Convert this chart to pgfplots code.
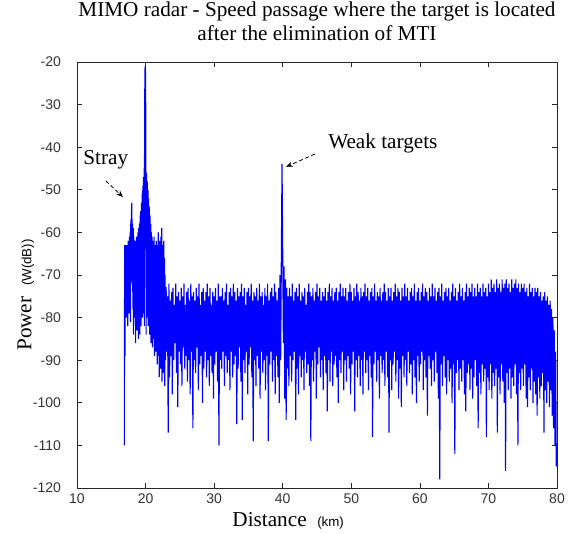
\documentclass[border=0pt]{standalone}
\usepackage{pgfplots}
\pgfplotsset{compat=1.18}
\usepackage{fontspec}
\setmainfont{Liberation Serif}
\setsansfont{Liberation Sans}
\usetikzlibrary{arrows.meta}
\begin{document}
\begin{tikzpicture}
\begin{axis}[
  scale only axis,
  width=360pt, height=319.5pt,
  xmin=10, xmax=80, ymin=-120, ymax=-20,
  xtick={10,20,...,80}, ytick={-120,-110,...,-20},
  tick align=inside, major tick length=3.75pt,
  axis line style={black!85, line width=0.6pt},
  every tick/.style={black!85, line width=0.5pt},
  /pgf/number format/assume math mode=true,
  tick label style={font=\sffamily\fontsize{10.5}{12}\selectfont, black!80},
  xticklabel style={yshift=-1pt},
  yticklabel style={xshift=-8.5pt},
  title={MIMO radar - Speed passage where the target is located\\after the elimination of MTI},
  title style={font=\fontsize{15.9}{17.5}\selectfont, align=center, at={(axis description cs:0.5,1)}, anchor=south, inner sep=0pt, yshift=10pt},
  xlabel={Distance\ \ {\sffamily\fontsize{10}{12}\selectfont (km)}},
  xlabel style={font=\fontsize{15.9}{17.5}\selectfont, at={(axis description cs:0.44,0)}, anchor=north, inner sep=0pt, yshift=-18pt},
  ylabel={Power\ \ {\sffamily\fontsize{10}{12}\selectfont (W(dB))}},
  ylabel style={font=\fontsize{15.9}{17.5}\selectfont, at={(axis description cs:0,0.453)}, anchor=south, inner sep=0pt, yshift=32pt},
]
\addplot[blue, line width=0.85pt] coordinates {
(16.9,-110)(16.95,-63)(17.0,-89)(17.05,-64)(17.1,-76)(17.15,-63)(17.2,-80)(17.25,-65)(17.3,-74)(17.35,-63)(17.4,-82)(17.45,-62)
(17.5,-77)(17.55,-64)(17.6,-79)(17.65,-61)(17.7,-75)(17.75,-60)(17.8,-81)(17.85,-57)(17.9,-72)(17.95,-55)
(18.0,-53)(18.05,-70)(18.1,-58)(18.15,-78)(18.2,-59)(18.25,-84)(18.3,-61)(18.35,-76)(18.4,-62)(18.45,-80)
(18.5,-63)(18.55,-86)(18.6,-62)(18.65,-78)(18.7,-61)(18.75,-83)(18.8,-62)(18.85,-77)(18.9,-60)(18.95,-85)
(19.0,-59)(19.05,-79)(19.1,-58)(19.15,-84)(19.2,-56)(19.25,-78)(19.3,-55)(19.35,-82)(19.4,-53)(19.45,-76)
(19.5,-51)(19.55,-80)(19.6,-49)(19.65,-74)(19.7,-47)(19.75,-79)(19.8,-45)(19.82,-82)(19.85,-43)(19.9,-22)(19.95,-21)
(20.0,-23)(20.05,-43)(20.08,-84)(20.1,-72)(20.15,-46)(20.2,-80)(20.25,-48)(20.3,-76)(20.35,-50)(20.4,-82)(20.45,-52)
(20.5,-78)(20.55,-54)(20.6,-84)(20.65,-56)(20.7,-80)(20.75,-58)(20.8,-86)(20.85,-60)(20.9,-81)(20.95,-61)
(21.0,-87)(21.05,-62)(21.1,-80)(21.15,-64)(21.2,-85)(21.25,-61)(21.3,-89)(21.35,-63)(21.4,-82)(21.45,-65)
(21.5,-88)(21.55,-62)(21.6,-84)(21.65,-64)(21.7,-91)(21.75,-63)(21.8,-85)(21.85,-60)(21.9,-89)(21.95,-63)
(22.0,-94)(22.05,-62)(22.1,-86)(22.15,-64)(22.2,-92)(22.25,-61)(22.3,-87)(22.35,-59)(22.4,-95)(22.45,-63)
(22.5,-88)(22.55,-64)(22.6,-93)(22.65,-62)(22.7,-89)(22.75,-66)(22.8,-96)(22.85,-70)(22.9,-90)(22.95,-73)
(23.0,-73)(23.1,-88)(23.2,-75)(23.3,-107)(23.4,-72)(23.5,-94)(23.6,-76)(23.7,-89)(23.8,-74)(23.9,-98)
(24.0,-73)(24.1,-90)(24.2,-77)(24.3,-86)(24.4,-72)(24.5,-93)(24.6,-75)(24.7,-101)(24.8,-74)(24.9,-88)
(25.0,-76)(25.1,-91)(25.2,-73)(25.3,-96)(25.4,-75)(25.5,-87)(25.6,-72)(25.7,-92)(25.8,-77)(25.9,-89)
(26.0,-74)(26.1,-95)(26.2,-73)(26.3,-90)(26.4,-76)(26.5,-98)(26.6,-72)(26.7,-88)(26.8,-75)(26.9,-106)
(27.0,-74)(27.1,-90)(27.2,-76)(27.3,-93)(27.4,-73)(27.5,-87)(27.6,-75)(27.7,-97)(27.8,-72)(27.9,-91)
(28.0,-77)(28.1,-89)(28.2,-74)(28.3,-100)(28.4,-73)(28.5,-92)(28.6,-76)(28.7,-88)(28.8,-74)(28.9,-94)
(29.0,-72)(29.1,-90)(29.2,-75)(29.3,-96)(29.4,-73)(29.5,-89)(29.6,-77)(29.7,-93)(29.8,-74)(29.9,-99)
(30.0,-75)(30.1,-91)(30.2,-73)(30.3,-88)(30.4,-76)(30.5,-95)(30.6,-72)(30.7,-110)(30.8,-75)(30.9,-90)
(31.0,-75)(31.1,-92)(31.2,-73)(31.3,-88)(31.4,-76)(31.5,-96)(31.6,-74)(31.7,-89)(31.8,-72)(31.9,-93)
(32.0,-77)(32.1,-90)(32.2,-74)(32.3,-97)(32.4,-73)(32.5,-88)(32.6,-75)(32.7,-94)(32.8,-72)(32.9,-91)
(33.0,-74)(33.1,-89)(33.2,-76)(33.3,-105)(33.4,-73)(33.5,-92)(33.6,-75)(33.7,-87)(33.8,-74)(33.9,-95)
(34.0,-72)(34.1,-104)(34.2,-75)(34.3,-90)(34.4,-73)(34.5,-93)(34.6,-77)(34.7,-88)(34.8,-74)(34.9,-98)
(35.0,-73)(35.1,-91)(35.2,-75)(35.3,-87)(35.4,-72)(35.5,-94)(35.6,-76)(35.7,-109)(35.8,-74)(35.9,-90)
(36.0,-75)(36.1,-96)(36.2,-73)(36.3,-89)(36.4,-76)(36.5,-92)(36.6,-72)(36.7,-99)(36.8,-75)(36.9,-88)
(37.0,-74)(37.1,-93)(37.2,-77)(37.3,-90)(37.4,-73)(37.5,-97)(37.6,-75)(37.7,-89)(37.8,-72)(37.9,-109)
(38.0,-76)(38.1,-91)(38.2,-74)(38.3,-88)(38.4,-73)(38.5,-95)(38.6,-75)(38.7,-90)(38.8,-72)(38.9,-98)
(39.0,-74)(39.1,-89)(39.2,-76)(39.3,-94)(39.4,-73)(39.5,-100)(39.6,-70)(39.7,-90)(39.8,-66)(39.9,-44)
(40.0,-65)(40.1,-86)(40.2,-68)(40.3,-99)(40.4,-71)(40.5,-104)(40.6,-73)(40.7,-92)(40.8,-75)(40.9,-96)
(41.0,-73)(41.1,-89)(41.2,-75)(41.3,-95)(41.4,-72)(41.5,-90)(41.6,-76)(41.7,-88)(41.8,-74)(41.9,-104)
(42.0,-73)(42.1,-92)(42.2,-75)(42.3,-98)(42.4,-72)(42.5,-89)(42.6,-76)(42.7,-94)(42.8,-74)(42.9,-90)
(43.0,-75)(43.1,-97)(43.2,-73)(43.3,-88)(43.4,-77)(43.5,-93)(43.6,-74)(43.7,-91)(43.8,-72)(43.9,-96)
(44.0,-74)(44.1,-109)(44.2,-75)(44.3,-90)(44.4,-73)(44.5,-95)(44.6,-76)(44.7,-88)(44.8,-74)(44.9,-99)
(45.0,-72)(45.1,-91)(45.2,-75)(45.3,-87)(45.4,-73)(45.5,-94)(45.6,-76)(45.7,-90)(45.8,-74)(45.9,-97)
(46.0,-75)(46.1,-89)(46.2,-73)(46.3,-93)(46.4,-76)(46.5,-102)(46.6,-74)(46.7,-90)(46.8,-72)(46.9,-95)
(47.0,-75)(47.1,-88)(47.2,-73)(47.3,-96)(47.4,-76)(47.5,-91)(47.6,-74)(47.7,-89)(47.8,-73)(47.9,-94)
(48.0,-76)(48.1,-100)(48.2,-74)(48.3,-90)(48.4,-72)(48.5,-93)(48.6,-75)(48.7,-88)(48.8,-73)(48.9,-97)
(49.0,-75)(49.1,-90)(49.2,-73)(49.3,-95)(49.4,-76)(49.5,-89)(49.6,-74)(49.7,-92)(49.8,-72)(49.9,-98)
(50.0,-74)(50.1,-91)(50.2,-76)(50.3,-88)(50.4,-73)(50.5,-102)(50.6,-75)(50.7,-90)(50.8,-72)(50.9,-94)
(51.0,-74)(51.1,-89)(51.2,-76)(51.3,-96)(51.4,-73)(51.5,-90)(51.6,-75)(51.7,-98)(51.8,-74)(51.9,-88)
(52.0,-72)(52.1,-93)(52.2,-75)(52.3,-90)(52.4,-73)(52.5,-97)(52.6,-76)(52.7,-89)(52.8,-74)(52.9,-94)
(53.0,-73)(53.1,-108)(53.2,-75)(53.3,-91)(53.4,-72)(53.5,-88)(53.6,-76)(53.7,-95)(53.8,-74)(53.9,-90)
(54.0,-75)(54.1,-99)(54.2,-73)(54.3,-89)(54.4,-76)(54.5,-93)(54.6,-74)(54.7,-90)(54.8,-72)(54.9,-96)
(55.0,-74)(55.1,-88)(55.2,-76)(55.3,-94)(55.4,-73)(55.5,-107)(55.6,-75)(55.7,-90)(55.8,-73)(55.9,-97)
(56.0,-76)(56.1,-91)(56.2,-74)(56.3,-88)(56.4,-72)(56.5,-95)(56.6,-75)(56.7,-90)(56.8,-73)(56.9,-99)
(57.0,-74)(57.1,-92)(57.2,-76)(57.3,-101)(57.4,-73)(57.5,-89)(57.6,-75)(57.7,-94)(57.8,-72)(57.9,-90)
(58.0,-75)(58.1,-96)(58.2,-73)(58.3,-88)(58.4,-76)(58.5,-93)(58.6,-74)(58.7,-91)(58.8,-73)(58.9,-98)
(59.0,-75)(59.1,-90)(59.2,-72)(59.3,-94)(59.4,-76)(59.5,-100)(59.6,-74)(59.7,-89)(59.8,-73)(59.9,-95)
(60.0,-76)(60.1,-91)(60.2,-74)(60.3,-88)(60.4,-72)(60.5,-97)(60.6,-75)(60.7,-90)(60.8,-73)(60.9,-94)
(61.0,-74)(61.1,-103)(61.2,-76)(61.3,-89)(61.4,-73)(61.5,-92)(61.6,-75)(61.7,-96)(61.8,-72)(61.9,-90)
(62.0,-75)(62.1,-95)(62.2,-73)(62.3,-88)(62.4,-76)(62.5,-93)(62.6,-74)(62.7,-99)(62.8,-73)(62.9,-118)
(63.0,-75)(63.1,-91)(63.2,-72)(63.3,-96)(63.4,-76)(63.5,-89)(63.6,-74)(63.7,-94)(63.8,-73)(63.9,-98)
(64.0,-75)(64.1,-90)(64.2,-73)(64.3,-95)(64.4,-76)(64.5,-92)(64.6,-74)(64.7,-100)(64.8,-72)(64.9,-91)
(65.0,-75)(65.1,-112)(65.2,-73)(65.3,-93)(65.4,-76)(65.5,-90)(65.6,-74)(65.7,-97)(65.8,-72)(65.9,-92)
(66.0,-75)(66.1,-95)(66.2,-73)(66.3,-90)(66.4,-76)(66.5,-98)(66.6,-74)(66.7,-102)(66.8,-72)(66.9,-93)
(67.0,-75)(67.1,-91)(67.2,-73)(67.3,-97)(67.4,-74)(67.5,-92)(67.6,-72)(67.7,-99)(67.8,-75)(67.9,-94)
(68.0,-73)(68.1,-90)(68.2,-75)(68.3,-96)(68.4,-72)(68.5,-106)(68.6,-74)(68.7,-93)(68.8,-73)(68.9,-98)
(69.0,-75)(69.1,-91)(69.2,-72)(69.3,-95)(69.4,-74)(69.5,-92)(69.6,-73)(69.7,-108)(69.8,-75)(69.9,-94)
(70.0,-72)(70.1,-97)(70.2,-74)(70.3,-91)(70.4,-71)(70.5,-99)(70.6,-73)(70.7,-93)(70.8,-72)(70.9,-96)
(71.0,-74)(71.1,-92)(71.2,-71)(71.3,-107)(71.4,-73)(71.5,-94)(71.6,-72)(71.7,-98)(71.8,-74)(71.9,-91)
(72.0,-71)(72.1,-95)(72.2,-73)(72.3,-100)(72.4,-72)(72.5,-116)(72.6,-71)(72.7,-93)(72.8,-73)(72.9,-97)
(73.0,-72)(73.1,-92)(73.2,-74)(73.3,-99)(73.4,-71)(73.5,-94)(73.6,-73)(73.7,-96)(73.8,-72)(73.9,-91)
(74.0,-71)(74.1,-98)(74.2,-73)(74.3,-110)(74.4,-72)(74.5,-93)(74.6,-74)(74.7,-97)(74.8,-72)(74.9,-92)
(75.0,-73)(75.1,-96)(75.2,-72)(75.3,-91)(75.4,-74)(75.5,-99)(75.6,-73)(75.7,-101)(75.8,-75)(75.9,-94)
(76.0,-72)(76.1,-97)(76.2,-74)(76.3,-92)(76.4,-73)(76.5,-100)(76.6,-75)(76.7,-95)(76.8,-73)(76.9,-98)
(77.0,-74)(77.1,-103)(77.2,-73)(77.3,-94)(77.4,-75)(77.5,-99)(77.6,-74)(77.7,-96)(77.8,-76)(77.9,-93)
(78.0,-75)(78.1,-107)(78.2,-74)(78.3,-97)(78.4,-76)(78.5,-100)(78.6,-75)(78.7,-95)(78.8,-77)(78.9,-101)
(79.0,-76)(79.1,-97)(79.2,-78)(79.3,-103)(79.4,-80)(79.5,-106)(79.6,-83)(79.7,-110)(79.8,-88)(79.9,-115)(80.0,-112)
};
\coordinate (BL) at (rel axis cs:0,0);
\coordinate (TR) at (rel axis cs:1,1);
\node[font=\fontsize{15.9}{17.5}\selectfont, anchor=west, inner sep=0pt] at (axis cs:10.9,-43) {Stray};
\node[font=\fontsize{15.9}{17.5}\selectfont, inner sep=0pt] at (axis cs:54.6,-39) {Weak targets};
\draw[densely dashed, line width=0.6pt, -{Stealth[length=5pt,width=4pt]}] (axis cs:14.2,-47.9) -- (axis cs:16.7,-51.7);
\draw[densely dashed, line width=0.6pt, -{Stealth[length=5pt,width=4pt]}] (axis cs:44.7,-41.6) -- (axis cs:40.5,-44.6);
\end{axis}
\pgfresetboundingbox
\path ([xshift=-57.75pt,yshift=-33.75pt]BL) rectangle ([xshift=12pt,yshift=46.5pt]TR);
\end{tikzpicture}
\end{document}
